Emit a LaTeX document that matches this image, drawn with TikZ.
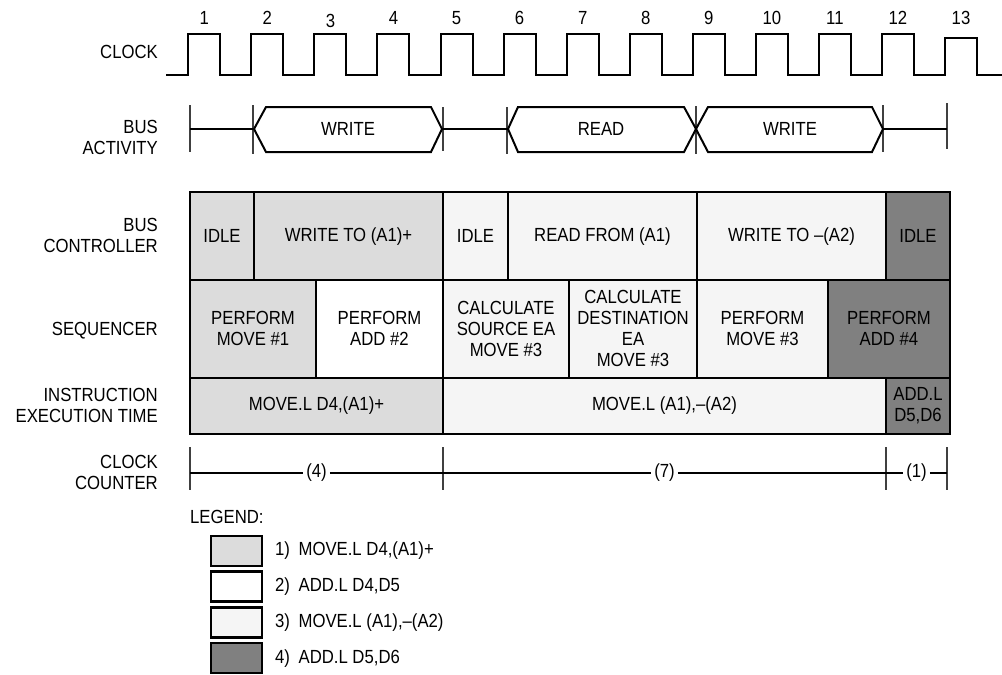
\documentclass[tikz,border=0pt]{standalone}
\usepackage{fontspec}
\setmainfont{Liberation Sans}[FakeStretch=0.88]
\definecolor{cA}{HTML}{DCDCDC}
\definecolor{cC}{HTML}{F5F5F5}
\definecolor{cD}{HTML}{808080}
\newcommand\diafont{\fontsize{19}{21}\selectfont}
\tikzset{
 cell/.style={draw=black, line width=2.2pt, align=center, inner sep=1pt, outer sep=0pt, anchor=north west, font=\diafont, text=black},
 lab/.style={align=right, anchor=east, font=\diafont, inner sep=0pt},
 txt/.style={font=\diafont, inner sep=0pt},
 cnt/.style={font=\diafont, inner xsep=3pt, inner ysep=0pt},
 wave/.style={line width=2pt, line join=miter},
 tickline/.style={line width=1.1pt, draw=black!75},
 hexa/.style={line width=2pt, line join=miter},
 flat/.style={line width=1.4pt},
 lbox/.style={draw=black, line width=2.5pt, minimum width=51pt, minimum height=30pt, anchor=north west, outer sep=0pt, inner sep=0pt},
}
\begin{document}
\begin{tikzpicture}[x=1pt,y=-1pt]
\useasboundingbox (0,0) rectangle (1002,675);

% ---------- row labels ----------
\node[lab] (lclk) at (158,52) {CLOCK};
\node[lab] (lbus) at (158,137) {BUS\\ACTIVITY};
\node[lab] (lbc)  at (158,235) {BUS\\CONTROLLER};
\node[lab] (lsq)  at (158,331) {SEQUENCER};
\node[lab] (lie)  at (158,405) {INSTRUCTION\hspace{6pt}\\EXECUTION TIME};
\node[lab] (lcc)  at (158,472) {CLOCK\\COUNTER};

% ---------- clock ----------
\draw[wave] (166,75) \foreach \k in {0,...,11}{ -- ({188.3+63.06*\k},75) -- ({188.3+63.06*\k},34) -- ({220.3+63.06*\k},34) -- ({220.3+63.06*\k},75) } -- (945,75) -- (945,37.7) -- (977,37.7) -- (977,75) -- (1002,75);
\foreach \k/\yy in {1/18,2/18,3/21,4/18,5/18,6/18,7/18,8/18,9/18,10/18,11/18,12/18,13/18}
  \node[txt] (n\k) at ({204.3+63.06*(\k-1)},\yy) {\k};

% ---------- bus activity ----------
\foreach \xx/\ya/\yb in {190/105/152, 253/105/154, 443/107/151, 507/107/154, 696/106/154, 883/105/152, 947/103/149}
  \draw[tickline] (\xx,\ya) -- (\xx,\yb);
\draw[flat] (190,129) -- (253,129);
\draw[flat] (443,129) -- (507,129);
\draw[flat] (883,129) -- (947,129);
\draw[hexa] (254,129) -- (266,107) -- (431,107) -- (442,129) -- (431,152) -- (266,152) -- cycle;
\draw[hexa] (508,129) -- (518,107) -- (684,107) -- (696,129) -- (684,152) -- (518,152) -- cycle;
\draw[hexa] (696,129) -- (708,107) -- (872,107) -- (883,129) -- (872,152) -- (708,152) -- cycle;
\node[txt] (ba1) at (348,129) {WRITE};
\node[txt] (ba2) at (601,129) {READ};
\node[txt] (ba3) at (790,129) {WRITE};

% ---------- bus controller row ----------
\node[cell, fill=cA, minimum width=64,  minimum height=87.7] (bc1) at (190,192.3) {IDLE};
\node[cell, fill=cA, minimum width=189, minimum height=87.7] (bc2) at (254,192.3) {WRITE TO (A1)+};
\node[cell, fill=cC, minimum width=65,  minimum height=87.7] (bc3) at (443,192.3) {IDLE};
\node[cell, fill=cC, minimum width=189, minimum height=87.7] (bc4) at (508,192.3) {READ FROM (A1)};
\node[cell, fill=cC, minimum width=189, minimum height=87.7] (bc5) at (697,192.3) {WRITE TO –(A2)};
\node[cell, fill=cD, minimum width=64,  minimum height=87.7] (bc6) at (886,192.3) {IDLE};

% ---------- sequencer row ----------
\node[cell, fill=cA,    minimum width=126, minimum height=97.7] (sq1) at (190,280) {PERFORM\\MOVE \#1};
\node[cell, fill=white, minimum width=127, minimum height=97.7] (sq2) at (316,280) {PERFORM\\ADD \#2};
\node[cell, fill=cC,    minimum width=126, minimum height=97.7] (sq3) at (443,280) {CALCULATE\\SOURCE EA\\MOVE \#3};
\node[cell, fill=cC,    minimum width=128, minimum height=97.7] (sq4) at (569,280) {CALCULATE\\DESTINATION\\EA\\MOVE \#3};
\node[cell, fill=cC,    minimum width=131, minimum height=97.7] (sq5) at (697,280) {PERFORM\\MOVE \#3};
\node[cell, fill=cD,    minimum width=122, minimum height=97.7] (sq6) at (828,280) {PERFORM\\ADD \#4};

% ---------- instruction execution row ----------
\node[cell, fill=cA, minimum width=253, minimum height=56.6] (ie1) at (190,377.7) {MOVE.L D4,(A1)+};
\node[cell, fill=cC, minimum width=443, minimum height=56.6] (ie2) at (443,377.7) {MOVE.L (A1),–(A2)};
\node[cell, fill=cD, minimum width=64,  minimum height=56.6] (ie3) at (886,377.7) {ADD.L\\D5,D6};

% ---------- clock counter ----------
\foreach \xx in {190,443,886,947}
  \draw[tickline] (\xx,447) -- (\xx,490);
\node[cnt] (cc4) at (316.5,473) {(4)};
\node[cnt] (cc7) at (664.5,473) {(7)};
\node[cnt] (cc1) at (916.5,473) {(1)};
\coordinate (ccs) at (190,473);
\coordinate (cce) at (947,473);
\draw[flat] (ccs) -- (cc4.west);
\draw[flat] (cc4.east) -- (cc7.west);
\draw[flat] (cc7.east) -- (cc1.west);
\draw[flat] (cc1.east) -- (cce);

% ---------- legend ----------
\node[txt, anchor=west] (leg) at (190,517) {LEGEND:};
\node[lbox, fill=cA]    (lb1) at (211,536) {};
\node[lbox, fill=white] (lb2) at (211,571.7) {};
\node[lbox, fill=cC]    (lb3) at (211,607.4) {};
\node[lbox, fill=cD]    (lb4) at (211,643.1) {};
\node[txt, anchor=west] (lt1) at (275,551) {1)\hspace{0.45em}MOVE.L D4,(A1)+};
\node[txt, anchor=west] (lt2) at (275,586.7) {2)\hspace{0.45em}ADD.L D4,D5};
\node[txt, anchor=west] (lt3) at (275,622.4) {3)\hspace{0.45em}MOVE.L (A1),–(A2)};
\node[txt, anchor=west] (lt4) at (275,658.1) {4)\hspace{0.45em}ADD.L D5,D6};
\end{tikzpicture}
\end{document}
